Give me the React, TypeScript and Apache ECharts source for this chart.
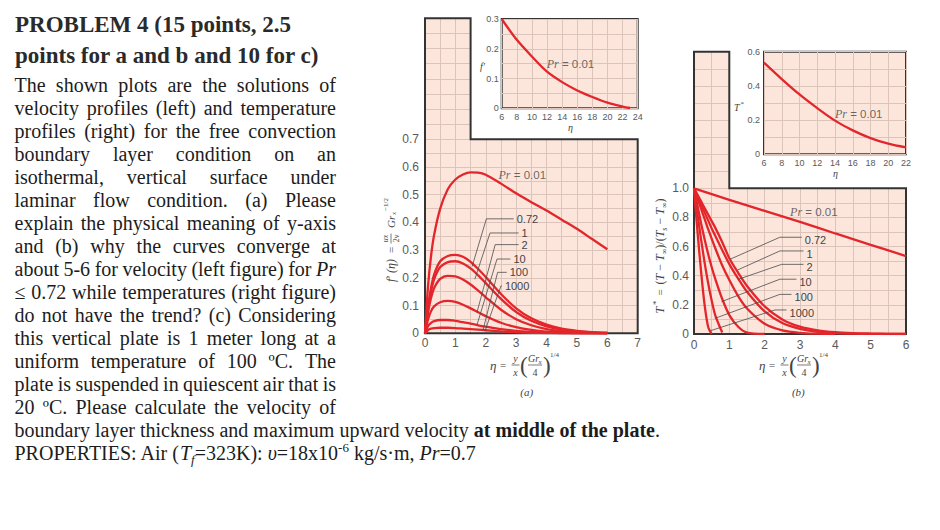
import { useEffect, useRef } from 'react';
import * as echarts from 'echarts';

// ---------- Fig. (a): velocity profiles f'(η) ----------
const etaVel = [0, 0.1, 0.2, 0.3, 0.5, 0.75, 1, 1.25, 1.5, 1.75, 2, 2.5, 3, 3.5, 4, 4.5, 5, 5.5, 6];
const velPr001 = [0, 0.17, 0.28, 0.355, 0.45, 0.52, 0.555, 0.573, 0.581, 0.58, 0.572, 0.54, 0.505, 0.473, 0.443, 0.41, 0.377, 0.34, 0.303];
const velPr072 = [0, 0.095, 0.165, 0.212, 0.26, 0.279, 0.283, 0.276, 0.258, 0.232, 0.203, 0.142, 0.09, 0.054, 0.031, 0.017, 0.009, 0.004, 0.002];
const velPr1 = [0, 0.088, 0.152, 0.195, 0.239, 0.257, 0.26, 0.252, 0.234, 0.209, 0.181, 0.124, 0.077, 0.045, 0.025, 0.013, 0.007, 0.003, 0.001];
const velPr2 = [0, 0.075, 0.128, 0.163, 0.196, 0.207, 0.205, 0.194, 0.176, 0.154, 0.13, 0.085, 0.051, 0.029, 0.015, 0.008, 0.004, 0.002, 0];
const velPr10 = [0, 0.05, 0.08, 0.097, 0.112, 0.117, 0.113, 0.103, 0.09, 0.076, 0.062, 0.038, 0.022, 0.012, 0.006, 0.003, 0.001, 0, 0];
const velPr100 = [0, 0.026, 0.038, 0.044, 0.048, 0.048, 0.045, 0.04, 0.035, 0.029, 0.024, 0.015, 0.009, 0.005, 0.002, 0.001, 0, 0, 0];
const velPr1000 = [0, 0.012, 0.017, 0.019, 0.02, 0.02, 0.019, 0.017, 0.015, 0.013, 0.011, 0.007, 0.004, 0.002, 0.001, 0, 0, 0, 0];

// inset: Pr = 0.01 continued to large η
const velInsetEta = [6, 8, 10, 12, 14, 16, 18, 20, 22, 23];
const velInsetPr001 = [0.3, 0.23, 0.174, 0.123, 0.088, 0.06, 0.038, 0.019, 0.006, 0.001];

// ---------- Fig. (b): temperature profiles T*(η) ----------
const etaTemp = [0, 0.1, 0.2, 0.3, 0.4, 0.5, 0.6, 0.8, 1, 1.25, 1.5, 2, 2.5, 3, 3.5, 4, 4.5, 5, 5.5, 6];
const etaTempPr001 = [0, 1, 2, 3, 4, 5, 6];
const tempPr001 = [1, 0.92, 0.845, 0.77, 0.69, 0.612, 0.535];
const tempPr072 = [1, 0.955, 0.91, 0.865, 0.82, 0.775, 0.73, 0.63, 0.52, 0.42, 0.33, 0.19, 0.1, 0.05, 0.025, 0.012, 0.006, 0.003, 0.001, 0];
const tempPr1 = [1, 0.945, 0.89, 0.835, 0.78, 0.725, 0.675, 0.575, 0.48, 0.38, 0.29, 0.155, 0.075, 0.035, 0.015, 0.006, 0.002, 0.001, 0, 0];
const tempPr2 = [1, 0.93, 0.86, 0.79, 0.72, 0.655, 0.59, 0.47, 0.37, 0.26, 0.175, 0.07, 0.025, 0.008, 0.002, 0];
const tempPr10 = [1, 0.88, 0.76, 0.65, 0.55, 0.46, 0.38, 0.24, 0.13, 0.05, 0.01, 0];
const tempPr100 = [1, 0.82, 0.65, 0.49, 0.35, 0.23, 0.13, 0.01];
const tempPr1000 = [1, 0.7, 0.43, 0.2, 0.05, 0];

// inset: Pr = 0.01 continued to large η
const tempInsetEta = [6, 8, 10, 12, 14, 16, 18, 20, 22];
const tempInsetPr001 = [0.536, 0.44, 0.35, 0.27, 0.197, 0.14, 0.095, 0.062, 0.04];

// Prandtl-number callouts: leader line (curve point → knee → label end)
const prNames = ['0.72', '1', '2', '10', '100', '1000'];
const velLeaderPts = [
  [[1.55, 0.241], [2.02, 0.413], [2.92, 0.413]],
  [[1.64, 0.195], [2.14, 0.362], [3.08, 0.362]],
  [[1.71, 0.075], [2.31, 0.32], [3.08, 0.32]],
  [[1.71, 0.03], [2.37, 0.268], [2.81, 0.268]],
  [[1.91, 0.012], [2.39, 0.22], [2.69, 0.22]],
  [[1.97, 0.008], [2.5, 0.171], [2.53, 0.171]],
];
const tempLeaderPts = [
  [[1.02, 0.513], [2.43, 0.664], [3.05, 0.664]],
  [[1.23, 0.439], [2.43, 0.57], [3.1, 0.57]],
  [[1.25, 0.375], [2.48, 0.478], [3.1, 0.478]],
  [[0.78, 0.222], [2.43, 0.376], [2.9, 0.376]],
  [[0.59, 0.107], [2.43, 0.272], [2.76, 0.272]],
  [[0.47, 0.023], [2.29, 0.165], [2.62, 0.165]],
];
// anchor of the "Pr = 0.01" captions, in each plot's data space
const prLowAnchors = [[2.42, 0.571], [11.96, 0.149], [2.72, 0.839], [14.0, 0.236]];

// ---------- problem statement ----------
const titleLines = ['PROBLEM 4 (15 points, 2.5', 'points for a and b and 10 for c)'];
const bodyLines = [
  'The shown plots are the solutions of',
  'velocity profiles (left) and temperature',
  'profiles (right) for the free convection',
  'boundary layer condition on an',
  'isothermal, vertical surface under',
  'laminar flow condition. (a) Please',
  'explain the physical meaning of y-axis',
  'and (b) why the curves converge at',
  'about 5-6 for velocity (left figure) for *Pr*',
  '≤ 0.72 while temperatures (right figure)',
  'do not have the trend? (c) Considering',
  'this vertical plate is 1 meter long at a',
  'uniform temperature of 100 ºC. The',
  'plate is suspended in quiescent air that is',
  '20 ºC. Please calculate the velocity of',
];

const SERIF = '"Liberation Serif", "Times New Roman", serif';
const SANS = '"Liberation Sans", Arial, sans-serif';
const INK = '#1c1c1c';
const GRID_BG = '#fce6dc';
const GRID_LINE = '#dcc4ba';
const FRAME = '#333333';
const CURVE = '#e3262b';
const LEADER = '#4a4a4a';
const TICK = '#595959';
const NOTE = '#444444';

type Seg = { t: string; size: number; style?: 'italic' | 'bold'; dy?: number; family?: string; fill?: string };

const measureCtx = document.createElement('canvas').getContext('2d') as CanvasRenderingContext2D;
const fontOf = (s: Seg) =>
  `${s.style === 'italic' ? 'italic ' : ''}${s.style === 'bold' ? 'bold ' : ''}${s.size}px ${s.family || SERIF}`;
const widthOf = (s: Seg) => {
  measureCtx.font = fontOf(s);
  return measureCtx.measureText(s.t).width;
};

function textEl(s: Seg, x: number, baseline: number): any {
  return {
    type: 'text',
    x,
    y: baseline + (s.dy || 0) - 0.34 * s.size,
    z: 5,
    style: { text: s.t, font: fontOf(s), fill: s.fill || INK, textAlign: 'left', textVerticalAlign: 'middle' },
  };
}

function run(segs: Seg[], x: number, baseline: number) {
  const els: any[] = [];
  let cx = x;
  segs.forEach((s) => {
    els.push(textEl(s, cx, baseline));
    cx += widthOf(s);
  });
  return els;
}

function justified(line: string, size: number, x0: number, x1: number, baseline: number) {
  const words: Seg[] = line.split(' ').map((w) =>
    w.startsWith('*') ? { t: w.slice(1, -1), size, style: 'italic' } : { t: w, size }
  );
  const ws = words.map(widthOf);
  const sum = ws.reduce((a, b) => a + b, 0);
  const n = words.length;
  const target = x1 - x0;
  const minGap = size * 0.2;
  let scale = 1;
  let gap = (target - sum) / (n - 1);
  if (gap < minGap) {
    scale = target / (sum + (n - 1) * minGap);
    gap = minGap * scale;
  }
  const els: any[] = [];
  let cx = x0;
  words.forEach((w, i) => {
    const el = textEl(w, cx, baseline);
    if (scale !== 1) el.scaleX = scale;
    els.push(el);
    cx += ws[i] * scale + gap;
  });
  return els;
}

function statementText() {
  const els: any[] = [];
  titleLines.forEach((t, i) => {
    els.push(...run([{ t, size: 23, style: 'bold', fill: '#2a2a2a' }], 15, 32.3 + 31 * i));
  });
  const base = (k: number) => 91.7 + 23 * k;
  bodyLines.forEach((l, k) => els.push(...justified(l, 20, 14.5, 336, base(k))));
  els.push(
    ...run(
      [
        { t: 'boundary layer thickness and maximum upward velocity ', size: 20 },
        { t: 'at middle of the plate', size: 20, style: 'bold' },
        { t: '.', size: 20 },
      ],
      14.5,
      base(15)
    )
  );
  els.push(
    ...run(
      [
        { t: 'PROPERTIES: Air (', size: 20 },
        { t: 'T', size: 20, style: 'italic' },
        { t: 'f', size: 13, style: 'italic', dy: 4 },
        { t: '=323K): ', size: 20 },
        { t: 'υ', size: 20, style: 'italic' },
        { t: '=18x10', size: 20 },
        { t: '-6', size: 13, dy: -8 },
        { t: ' kg/s·m, ', size: 20 },
        { t: 'Pr', size: 20, style: 'italic' },
        { t: '=0.7', size: 20 },
      ],
      14.5,
      base(16)
    )
  );
  return els;
}

// small formula pieces
const ft = (text: string, x: number, y: number, size: number, italic: boolean, align = 'left', fill = NOTE) => ({
  type: 'text',
  x,
  y,
  z: 5,
  style: { text, font: `${italic ? 'italic ' : ''}${size}px ${SERIF}`, fill, textAlign: align, textVerticalAlign: 'middle' },
});
const fl = (x1: number, y1: number, x2: number, y2: number) => ({
  type: 'line',
  z: 5,
  shape: { x1, y1, x2, y2 },
  style: { stroke: NOTE, lineWidth: 0.7 },
});

// η = (y/x)(Gr_x/4)^(1/4)
function etaFormula(x0: number, yc: number) {
  return [
    ft('η', x0, yc, 13, true),
    ft('=', x0 + 10, yc, 11, false),
    ft('y', x0 + 25.5, yc - 6.5, 10, true, 'center'),
    fl(x0 + 21.5, yc, x0 + 29.5, yc),
    ft('x', x0 + 25.5, yc + 7, 10, true, 'center'),
    ft('(', x0 + 30, yc, 23, false),
    ft('Gr', x0 + 38, yc - 6.5, 10, true),
    ft('x', x0 + 48.5, yc - 3.5, 7, true),
    fl(x0 + 38, yc, x0 + 52, yc),
    ft('4', x0 + 45, yc + 7, 10, false, 'center'),
    ft(')', x0 + 53, yc, 23, false),
    ft('1/4', x0 + 60, yc - 10, 7, false),
  ];
}

// f'(η) = (u x / 2ν) Gr_x^(-1/2), written along the vertical axis
function velAxisTitle() {
  return {
    type: 'group',
    x: 391,
    y: 237,
    rotation: Math.PI / 2,
    children: [
      ft('f′ (η)', -45, 0, 12, true),
      ft('=', -13, 0, 11, false, 'center'),
      ft('ux', -1.5, -5.5, 8, true, 'center'),
      fl(-6.5, 0, 3.5, 0),
      ft('2ν', -1.5, 5.5, 8, false, 'center'),
      ft('Gr', 9, 0, 11, true),
      ft('x', 22, 3, 7, true),
      ft('−1/2', 26, -5, 7, false),
    ],
  };
}

// T* = (T − T∞)/(Ts − T∞), written along the vertical axis
function tempAxisTitle() {
  const segs: Seg[] = [
    { t: '(', size: 12 },
    { t: 'T', size: 12, style: 'italic' },
    { t: ' − ', size: 12 },
    { t: 'T', size: 12, style: 'italic' },
    { t: '∞', size: 8, dy: 3 },
    { t: ')/(', size: 12 },
    { t: 'T', size: 12, style: 'italic' },
    { t: 's', size: 8, style: 'italic', dy: 3 },
    { t: ' − ', size: 12 },
    { t: 'T', size: 12, style: 'italic' },
    { t: '∞', size: 8, dy: 3 },
    { t: ')', size: 12 },
  ].map((s) => ({ ...s, fill: NOTE }) as Seg);
  return {
    type: 'group',
    x: 660,
    y: 251.5,
    rotation: Math.PI / 2,
    children: [
      ft('T', -62, 0, 12, true),
      ft('*', -53.5, -4, 9, false),
      ft('=', -41, 0, 11, false, 'center'),
      ...run(segs, -33, 4),
    ],
  };
}

// plot areas: (a) main, (a) upper strip, (a) inset, (b) main, (b) upper strip, (b) inset
const gridRects = [
  { left: 425, top: 139.3, width: 212.7, height: 194 },
  { left: 425, top: 18.3, width: 45.6, height: 121 },
  { left: 501.7, top: 19, width: 136, height: 89.3 },
  { left: 694, top: 188.3, width: 212, height: 145.7 },
  { left: 694, top: 51.7, width: 35.3, height: 136.6 },
  { left: 764, top: 51.7, width: 142, height: 102.6 },
];

type AxisSpec = {
  min: number;
  max: number;
  interval: number;
  minor?: boolean;
  labels?: boolean;
  fmt?: (v: number) => string;
  size?: number;
  margin?: number;
};
function axis(gridIndex: number, s: AxisSpec) {
  return {
    type: 'value',
    gridIndex,
    min: s.min,
    max: s.max,
    interval: s.interval,
    axisLine: { show: false },
    axisTick: { show: false },
    axisLabel: {
      show: !!s.labels,
      fontSize: s.size || 12,
      color: TICK,
      fontFamily: SANS,
      margin: s.margin ?? 5,
      formatter: s.fmt,
    },
    splitLine: { show: true, lineStyle: { color: GRID_LINE, width: 1 } },
    minorTick: { show: false, splitNumber: 2 },
    minorSplitLine: { show: !!s.minor, lineStyle: { color: GRID_LINE, width: 1 } },
  };
}
const fmtInt = (v: number) => String(Math.round(v));
const fmtDec = (v: number) => (Math.abs(v) < 1e-9 ? '0' : v.toFixed(1));

const zip = (xs: number[], ys: number[]) => ys.map((y, i) => [xs[i], y]);

function curve(idx: number, xs: number[], ys: number[]) {
  return {
    type: 'line',
    xAxisIndex: idx,
    yAxisIndex: idx,
    data: zip(xs, ys),
    symbol: 'none',
    smooth: 0.3,
    lineStyle: { color: CURVE, width: 2.3 },
    z: 3,
    silent: true,
  };
}

function leader(idx: number, pts: number[][], label: string, dy: number) {
  return {
    type: 'line',
    xAxisIndex: idx,
    yAxisIndex: idx,
    data: pts,
    symbol: 'none',
    lineStyle: { color: LEADER, width: 0.8 },
    z: 4,
    silent: true,
    endLabel: {
      show: true,
      formatter: label,
      color: NOTE,
      fontSize: 11,
      lineHeight: 11,
      fontFamily: SANS,
      distance: 3,
      offset: [0, dy],
    },
  };
}

function prLowLabel(idx: number, at: number[]) {
  return {
    type: 'scatter',
    xAxisIndex: idx,
    yAxisIndex: idx,
    data: [at],
    symbolSize: 0,
    silent: true,
    z: 4,
    label: {
      show: true,
      position: 'right',
      distance: 0,
      formatter: '{p|Pr} = 0.01',
      color: NOTE,
      fontSize: 11.5,
      fontFamily: SANS,
      rich: { p: { fontFamily: SERIF, fontStyle: 'italic', fontSize: 12, color: NOTE } },
    },
  };
}

function lFrame(main: any, strip: any) {
  const l = main.left;
  const r = main.left + main.width;
  const b = main.top + main.height;
  const sr = strip.left + strip.width;
  return {
    type: 'polyline',
    z: 1,
    shape: {
      points: [
        [l, strip.top],
        [sr, strip.top],
        [sr, main.top],
        [r, main.top],
        [r, b],
        [l, b],
        [l, strip.top - 1],
      ],
    },
    style: { stroke: FRAME, lineWidth: 2, fill: null },
  };
}

function buildOption() {
  const velCurves = [velPr072, velPr1, velPr2, velPr10, velPr100, velPr1000];
  const tempCurves = [tempPr072, tempPr1, tempPr2, tempPr10, tempPr100, tempPr1000];
  return {
    animation: false,
    backgroundColor: '#ffffff',
    grid: gridRects.map((r, i) => ({
      ...r,
      show: true,
      backgroundColor: GRID_BG,
      borderWidth: i === 2 || i === 5 ? 2 : 0,
      borderColor: FRAME,
    })),
    xAxis: [
      axis(0, { min: 0, max: 7, interval: 1, minor: true, labels: true, fmt: fmtInt, margin: 4 }),
      axis(1, { min: 0, max: 1.5, interval: 0.5 }),
      axis(2, { min: 6, max: 24, interval: 2, labels: true, fmt: fmtInt, size: 9, margin: 4 }),
      axis(3, { min: 0, max: 6, interval: 1, minor: true, labels: true, fmt: fmtInt, margin: 5 }),
      axis(4, { min: 0, max: 1, interval: 0.5 }),
      axis(5, { min: 6, max: 22, interval: 2, labels: true, fmt: fmtInt, size: 9, margin: 4 }),
    ],
    yAxis: [
      axis(0, { min: 0, max: 0.7, interval: 0.1, minor: true, labels: true, fmt: fmtDec, margin: 6 }),
      axis(1, { min: 0, max: 8, interval: 1 }),
      axis(2, { min: 0, max: 0.3, interval: 0.1, minor: true, labels: true, fmt: fmtDec, size: 9, margin: 3 }),
      axis(3, { min: 0, max: 1, interval: 0.2, minor: true, labels: true, fmt: fmtDec, margin: 5 }),
      axis(4, { min: 0, max: 8, interval: 1 }),
      axis(5, { min: 0, max: 0.6, interval: 0.2, minor: true, labels: true, fmt: fmtDec, size: 9, margin: 4 }),
    ],
    series: [
      curve(0, etaVel, velPr001),
      ...velCurves.map((ys) => curve(0, etaVel, ys)),
      curve(2, velInsetEta, velInsetPr001),
      curve(3, etaTempPr001, tempPr001),
      ...tempCurves.map((ys) => curve(3, etaTemp, ys)),
      curve(5, tempInsetEta, tempInsetPr001),
      ...velLeaderPts.map((p, i) => leader(0, p, prNames[i], 0)),
      ...tempLeaderPts.map((p, i) => leader(3, p, prNames[i], 3)),
      prLowLabel(0, prLowAnchors[0]),
      prLowLabel(2, prLowAnchors[1]),
      prLowLabel(3, prLowAnchors[2]),
      prLowLabel(5, prLowAnchors[3]),
    ],
    graphic: {
      elements: [
        lFrame(gridRects[0], gridRects[1]),
        lFrame(gridRects[3], gridRects[4]),
        ft('f′', 480, 66, 10, true),
        ft('η', 570.5, 127.5, 10, true, 'center'),
        ft('T', 734, 107, 10, true),
        ft('*', 740.5, 104, 7, false),
        ft('η', 835.5, 173.5, 10, true, 'center'),
        ...etaFormula(490, 365),
        ...etaFormula(759, 365),
        ft('(a)', 526.7, 391.7, 11, true, 'center'),
        ft('(b)', 798.3, 391.7, 11, true, 'center'),
        velAxisTitle(),
        tempAxisTitle(),
        ...statementText(),
      ],
    },
  };
}

export default function App() {
  const ref = useRef<HTMLDivElement>(null);
  useEffect(() => {
    const chart = echarts.init(ref.current as HTMLDivElement, null, { renderer: 'svg' });
    chart.setOption(buildOption() as any);
    return () => chart.dispose();
  }, []);
  return (
    <div
      ref={ref}
      style={{ position: 'absolute', left: 0, top: 0, width: 940, height: 530, background: '#ffffff' }}
    />
  );
}
